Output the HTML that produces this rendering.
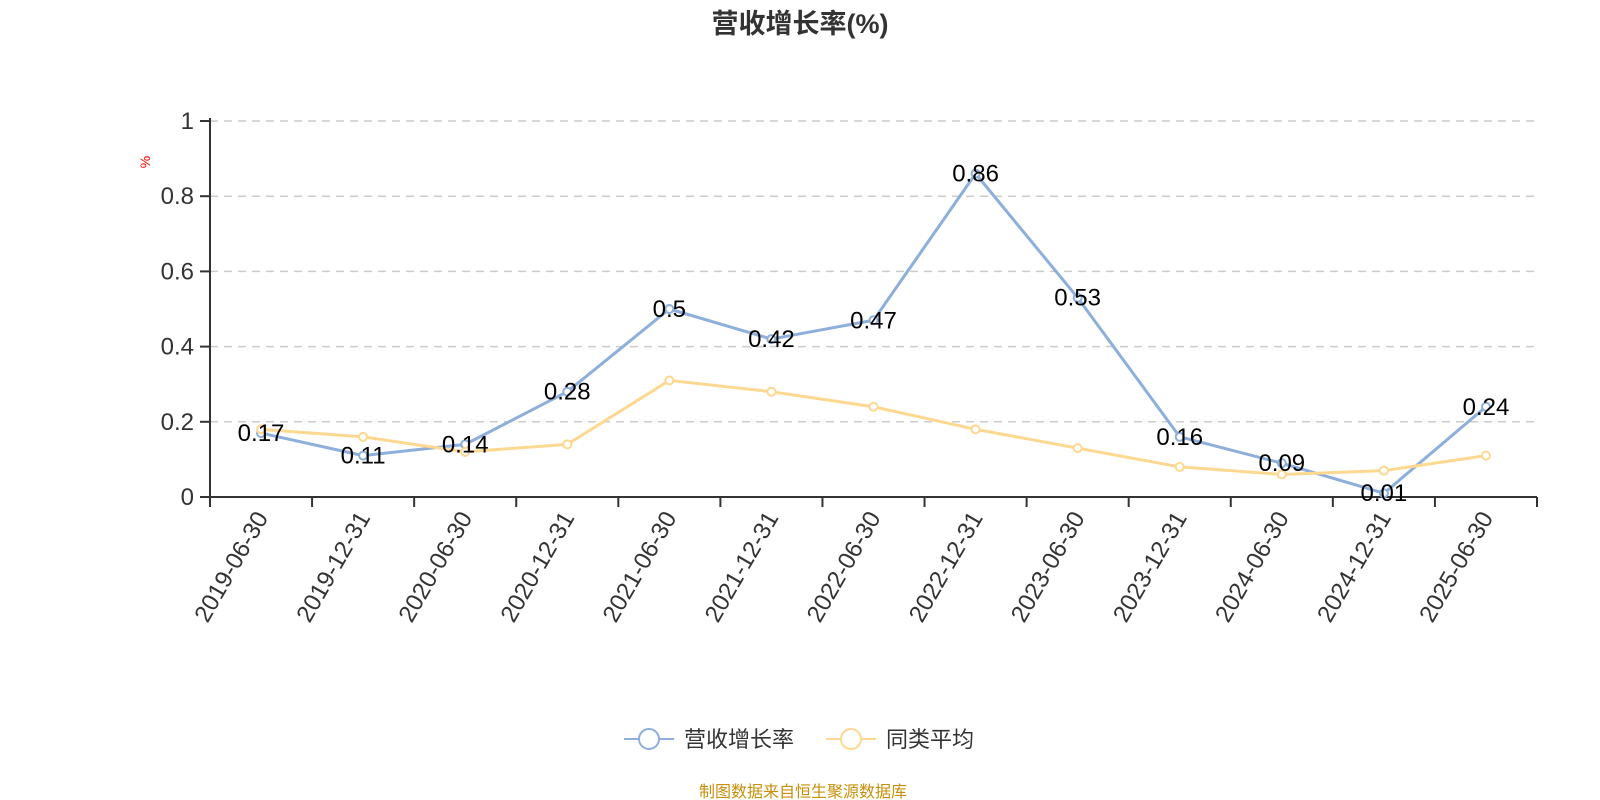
<!DOCTYPE html>
<html><head><meta charset="utf-8">
<style>
html,body{margin:0;padding:0;background:#fff;}
svg{display:block;font-family:"Liberation Sans","Noto Sans CJK SC",sans-serif;}
</style></head>
<body>
<svg id="chart" width="1600" height="800" xmlns="http://www.w3.org/2000/svg">
<text x="800" y="33" text-anchor="middle" font-size="27" font-weight="bold" fill="#333">营收增长率(%)</text>
<text x="150" y="162" font-size="14" fill="#f00" transform="rotate(-90 150 162)" text-anchor="middle">%</text>
<g id="grid"></g>
<g id="axes"></g>
<g id="series"></g>
<g id="labels"></g>
<g>
  <g>
    <line x1="624" y1="739" x2="674" y2="739" stroke="#8eaedb" stroke-width="2"/>
    <circle cx="649" cy="739" r="10" fill="#fff" stroke="#8eaedb" stroke-width="2"/>
    <text x="684" y="747" font-size="22" fill="#333">营收增长率</text>
  </g>
  <g>
    <line x1="826" y1="739" x2="876" y2="739" stroke="#fdd891" stroke-width="2"/>
    <circle cx="851" cy="739" r="10" fill="#fff" stroke="#fdd891" stroke-width="2"/>
    <text x="886" y="747" font-size="22" fill="#333">同类平均</text>
  </g>
</g>
<text x="803" y="797" text-anchor="middle" font-size="16" fill="#c8900a">制图数据来自恒生聚源数据库</text>
</svg>
<script>
const categories=["2019-06-30","2019-12-31","2020-06-30","2020-12-31","2021-06-30","2021-12-31","2022-06-30","2022-12-31","2023-06-30","2023-12-31","2024-06-30","2024-12-31","2025-06-30"];
const revenueGrowth=[0.17,0.11,0.14,0.28,0.5,0.42,0.47,0.86,0.53,0.16,0.09,0.01,0.24];
const peerAverage=[0.18,0.16,0.12,0.14,0.31,0.28,0.24,0.18,0.13,0.08,0.06,0.07,0.11];
const yTicks=[0,0.2,0.4,0.6,0.8,1];
const yTickLabels=["0","0.2","0.4","0.6","0.8","1"];

const NS="http://www.w3.org/2000/svg";
const X0=210,X1=1537,Y0=497,Y1=121,YMAX=1;
const bw=(X1-X0)/categories.length;
const xScale=i=>X0+bw*(i+0.5);
const yScale=v=>Y0-(v/YMAX)*(Y0-Y1);
function mk(tag,attrs,parent){const e=document.createElementNS(NS,tag);for(const k in attrs)e.setAttribute(k,attrs[k]);parent.appendChild(e);return e;}
const grid=document.getElementById('grid'),axes=document.getElementById('axes'),series=document.getElementById('series'),labels=document.getElementById('labels');

yTicks.forEach((t,i)=>{
  const y=yScale(t);
  if(t>0){const g=mk('line',{x1:X0,x2:X1,y1:y,y2:y,stroke:'#ccc','stroke-width':1.5,'stroke-dasharray':'8,6'},grid);
  
  }
  mk('line',{x1:X0-10,x2:X0,y1:y,y2:y,stroke:'#333','stroke-width':2},axes);
  const tx=mk('text',{x:X0-16,y:y+8,'text-anchor':'end','font-size':24,fill:'#333'},axes);
  tx.textContent=yTickLabels[i];
  
  
});
const ya=mk('line',{x1:X0,x2:X0,y1:Y1-3,y2:Y0,stroke:'#333','stroke-width':2},axes);


const xa=mk('line',{x1:X0,x2:X1,y1:Y0,y2:Y0,stroke:'#333','stroke-width':2},axes);


for(let i=0;i<=categories.length;i++){const x=X0+bw*i;mk('line',{x1:x,x2:x,y1:Y0,y2:Y0+10,stroke:'#333','stroke-width':2},axes);}
categories.forEach((c,i)=>{
  const x=xScale(i),y=Y0+16;
  const t=mk('text',{x:x,y:y+9,'text-anchor':'end','font-size':24,fill:'#333',transform:`rotate(-60 ${x} ${y})`},axes);
  t.textContent=c;
  
  
});

function drawSeries(vals,color,name,showLabels){
  const pts=vals.map((v,i)=>xScale(i)+','+yScale(v)).join(' ');
  const pl=mk('polyline',{points:pts,fill:'none',stroke:color,'stroke-width':3,'stroke-linejoin':'round'},series);
  
  
  vals.forEach((v,i)=>{
    const c=mk('circle',{cx:xScale(i),cy:yScale(v),r:4,fill:'#fff',stroke:color,'stroke-width':2},series);
    
    
    if(showLabels){
      const t=mk('text',{x:xScale(i),y:yScale(v)+8,'text-anchor':'middle','font-size':24,fill:'#000'},labels);
      t.textContent=String(v);
      
      
    }
  });
}
drawSeries(revenueGrowth,'#8eaedb','revenue-growth',true);
drawSeries(peerAverage,'#fdd891','peer-average',false);
</script>
</body></html>
